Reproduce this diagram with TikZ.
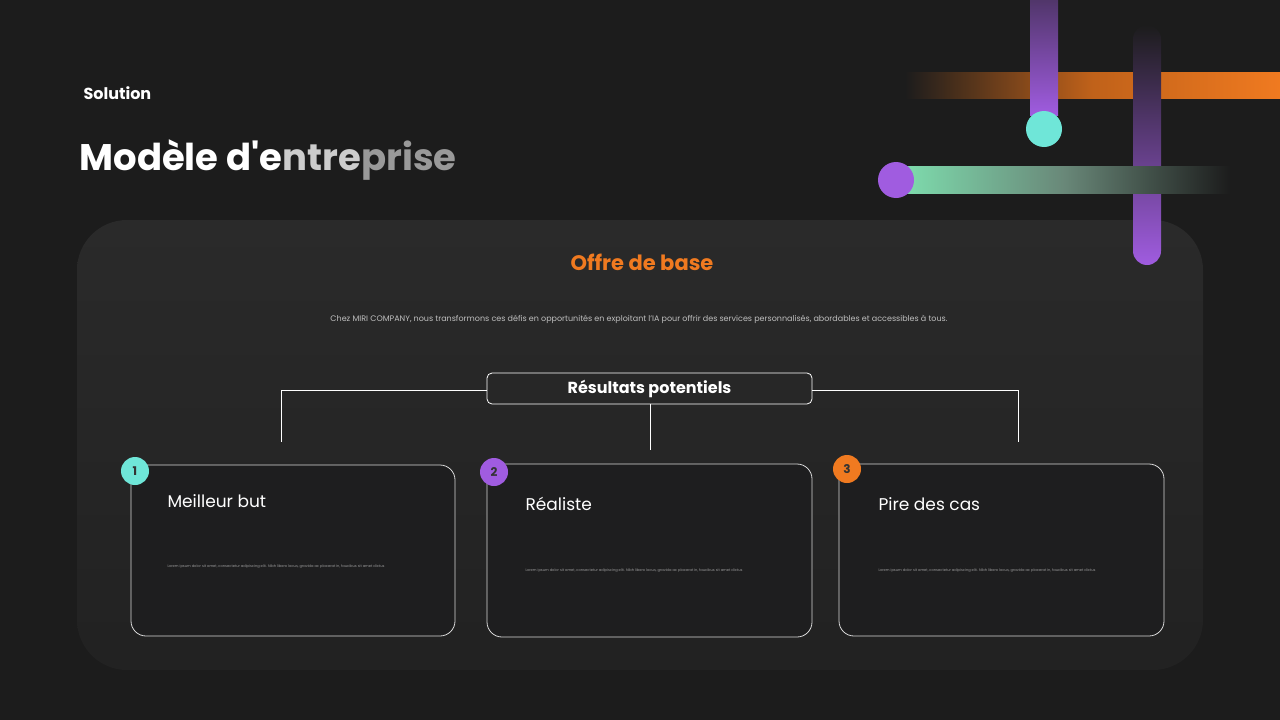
\documentclass[tikz,border=0pt]{standalone}
\usepackage{fontspec}
\setmainfont{Poppins}
\usetikzlibrary{shadings}
\definecolor{bg}{HTML}{1C1C1C}
\definecolor{panel}{HTML}{2A2A2A}
\definecolor{cardc}{HTML}{1E1E1F}
\definecolor{orng}{HTML}{F07A20}
\definecolor{purp}{HTML}{A05CE0}
\definecolor{teal}{HTML}{6FE6D8}
\definecolor{grn}{HTML}{7FE0B0}
\definecolor{lg}{HTML}{9A9A9A}
\tikzset{
 card/.style={draw=white!85!black, line width=0.8pt, fill=cardc, rounded corners=15pt},
 badge/.style={circle, minimum size=28pt, inner sep=0pt, font=\fontsize{12}{12}\selectfont\bfseries, text=black!80},
 ttl/.style={anchor=west, text=white, font=\fontsize{17}{20}\selectfont},
 lorem/.style={anchor=west, text=lg, font=\fontsize{3.6}{5}\selectfont},
 conn/.style={draw=white, line width=0.8pt}
}
\begin{document}
\begin{tikzpicture}[x=1pt,y=-1pt]
\useasboundingbox (0,0) rectangle (1280,720);
\fill[bg] (0,0) rectangle (1280,720);
% panel
\shade[top color=panel, bottom color=bg!60!panel, rounded corners=50pt] (77,220) rectangle (1203,670);
% decorations
\shade[left color=bg, right color=orng, middle color=orng!80!black] (905,72) rectangle (1280,98);
\shade[top color=purp!40!bg, bottom color=purp] (1030,0) rectangle (1058,115);
\fill[teal] (1044,129) circle (18);
\shade[top color=bg, bottom color=purp, rounded corners=14pt] (1133,25) rectangle (1161,265);
\shade[left color=grn, right color=bg, middle color=grn!40!bg!80!white] (896,166) rectangle (1230,193);
\fill[purp] (896,180) circle (18);
% texts
\node[anchor=west, text=white, font=\fontsize{16}{20}\selectfont\bfseries] (sol) at (80,93) {Solution};
\node[anchor=west, text=white, font=\fontsize{37}{44}\selectfont\bfseries] (title) at (76,160) {Modèle d\textquotesingle e\textcolor{white!80!black}{ntre}\textcolor{white!60!black}{prise}};
\node[text=orng, font=\fontsize{21}{24}\selectfont\bfseries] (offre) at (642,262) {Offre de base};
\node[text=white!75!black, font=\fontsize{8}{9}\selectfont] (desc) at (639,319) {Chez MIRI COMPANY, nous transformons ces défis en opportunités en exploitant l'IA pour offrir des services personnalisés, abordables et accessibles à tous.};
% results box
\node[draw=white, line width=0.8pt, rounded corners=5pt, minimum width=325pt, minimum height=31pt, text=white, font=\fontsize{16}{18}\selectfont\bfseries] (res) at (649.5,388.5) {Résultats potentiels};
\coordinate (l1) at (281,390); \coordinate (l2) at (281,442);
\coordinate (r1) at (1018,390); \coordinate (r2) at (1018,442);
\coordinate (m2) at (650,450);
\draw[conn] (res.west |- l1) -- (l1) -- (l2);
\draw[conn] (res.east |- r1) -- (r1) -- (r2);
\draw[conn] (res.south -| m2) -- (m2);
% cards
\draw[card] (131,465) rectangle (455,636);
\draw[card] (487,464) rectangle (812,637);
\draw[card] (839,464) rectangle (1164,636);
\node[badge, fill=teal] (b1) at (135,471) {1};
\node[badge, fill=purp] (b2) at (494,472) {2};
\node[badge, fill=orng] (b3) at (847,469) {3};
\node[ttl] (t1) at (164,501) {Meilleur but};
\node[ttl] (t2) at (522,504) {Réaliste};
\node[ttl] (t3) at (875,504) {Pire des cas};
\node[lorem] (p1) at (164,567) {Lorem ipsum dolor sit amet, consectetur adipiscing elit. Nibh libero lacus, gravida ac placerat in, faucibus sit amet dictus};
\node[lorem] (p2) at (522,571) {Lorem ipsum dolor sit amet, consectetur adipiscing elit. Nibh libero lacus, gravida ac placerat in, faucibus sit amet dictus};
\node[lorem] (p3) at (875,571) {Lorem ipsum dolor sit amet, consectetur adipiscing elit. Nibh libero lacus, gravida ac placerat in, faucibus sit amet dictus};
\end{tikzpicture}
\end{document}
